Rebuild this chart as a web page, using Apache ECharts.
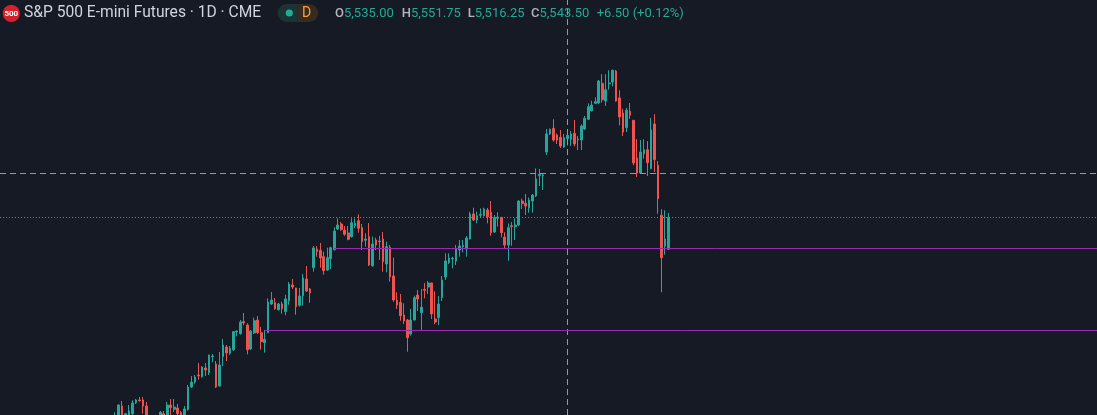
<!DOCTYPE html>
<html>
<head>
<meta charset="utf-8">
<script src="https://cdn.jsdelivr.net/npm/echarts@6/dist/echarts.min.js"></script>
<style>
html, body { margin: 0; padding: 0; background: #161a25; }
#chart { width: 1097px; height: 415px; }
</style>
</head>
<body>
<div id="chart"></div>
<script>
// daily candles, oldest first
var opens = [4769.5,4780.5,4812.75,4787.25,4785.75,4792,4821.75,4829,4829,4812.75,
  4775,4753.5,4764.25,4777.75,4792,4785.75,4815.5,4804,4807.5,4794.75,
  4787.25,4802.75,4864,4877.5,4896.5,4892,4915.5,4902.75,4946,4926.25,
  4866.75,4946,4972,4955,4964.75,5012.5,5008,5040.5,5031.5,4966.75,
  5010,5045,5010.75,4983.75,5010.75,5088.25,5091.75,5072.75,5088.25,5067.5,
  5097,5139.5,5131.5,5084.75,5110.5,5155.75,5128.75,5186.25,5236.75,5233.25,
  5216,5180,5210.5,5234.75,5290.75,5304.25,5288,5280,5270,5299.5,
  5313,5294.25,5260.25,5270,5191.5,5261,5256.5,5263.75,5196.25,5241.25,
  5163.75,5099,5092.75,5058.5,5045,5007.25,5045,5112.5,5064.75,5128,
  5134,5145,5047.75,5051.25,5105.25,5161,5199.75,5209.75,5204.25,5234,
  5243,5236.75,5263.75,5331.25,5315,5327.75,5326.5,5342,5336.5,5282.5,
  5319.5,5322.25,5269,5247.5,5299.5,5297,5301.5,5366.25,5360,5347.5,
  5366.25,5379.75,5434.5,5434.5,5498.5,5547.25,5562.5,5544.5,5538.25,5512,
  5535,5533,5549,5533.75,5531,5560.75,5587,5610,5630,5631,
  5684,5636.25,5683,5687.5,5717.25,5644.5,5604,5564.25,5608.5,5584.25,
  5482.5,5442,5494,5504.75,5453.5,5574.25,5462.75,5327.75,5244.75,5236];
var closes = [4785.75,4815.5,4783,4792,4799.25,4821,4829,4827,4812.75,4775,
  4758.75,4764.25,4780.5,4795.75,4785.75,4815.5,4808.25,4810,4792,4785.75,
  4804.75,4864,4877.5,4891,4894.5,4918,4910,4950.5,4947.75,4864,
  4923.5,4977.5,4956,4968.5,5013.5,5015.25,5039.5,5037,4964.75,5015.25,
  5043,5010.75,4986.5,4993,5093.5,5099,5075.5,5088.25,5075.5,5101.75,
  5142.25,5134,5081,5109.75,5158.5,5123.25,5118,5239.5,5229.5,5212.5,
  5178,5213.25,5240.25,5285.25,5301.5,5288.75,5276.5,5263,5307.75,5306,
  5292.5,5256.5,5263.75,5193.5,5250.25,5247.5,5258.25,5202.5,5243,5162,
  5099,5085.5,5056.5,5042.25,4997.25,5045,5105.25,5101.75,5080,5125.25,
  5145,5061.25,5039.5,5088.25,5153,5204.25,5212.5,5211.5,5238.5,5244.75,
  5246.75,5266.5,5331.25,5315,5326.5,5330.5,5344.75,5324,5280.75,5321.25,
  5323,5280.75,5247.5,5294.25,5297,5301.5,5366.25,5359.5,5352.75,5369,
  5382.5,5425.75,5438.5,5436.5,5547.25,5560,5531,5531,5514.75,5537,
  5543.5,5547.25,5520.25,5531.75,5568.75,5589.5,5621,5625.5,5634.5,5690.25,
  5639.75,5666.75,5685,5719.25,5636.25,5593,5552.5,5611.25,5597.75,5469,
  5442,5498.5,5504.75,5469.75,5558,5477.75,5372.5,5213.25,5263.75,5322.25];
var lows = [4761.5,4772.25,4775,4783,4780.5,4788.5,4818.25,4824.5,4792,4767,
  4748,4742.5,4753.5,4772.25,4780.5,4780.5,4788.5,4796.5,4785.75,4780.5,
  4783,4800.75,4861.5,4873,4883.75,4889.25,4893.75,4896.5,4930.75,4861.5,
  4865.5,4920.75,4934.25,4950.5,4961.25,5001,5005.75,5030.75,4952.5,4964.5,
  5007.25,5007.25,4964.75,4956.75,5010,5085.5,5072.75,5070.75,5062,5057.75,
  5086.25,5128.75,5059.25,5080.75,5083.5,5120.5,5091.75,5175.5,5216,5186.25,
  5167.25,5177.25,5182.75,5232.75,5288,5286,5272.5,5260.25,5267.75,5293.5,
  5280.75,5234,5243,5190.75,5189,5234,5207,5175.5,5173.75,5148.5,
  5094.5,5074.75,5043,5034.25,4959.5,5002.5,5043.75,5069.25,5018,5103.5,
  5115.25,5047.75,5033.5,5031.5,5096.25,5153,5196.25,5184.5,5193.5,5216,
  5227.75,5216,5262.25,5312.25,5306,5323,5324.5,5306,5272.5,5280,
  5297,5268.25,5238.5,5205,5245.5,5261,5298.75,5344.75,5328.5,5334.75,
  5334.75,5377,5406.75,5396,5490.5,5544.5,5526.5,5520.25,5509.5,5509.5,
  5516.25,5514.75,5513.5,5504,5504,5558,5585,5608,5628.25,5628.25,
  5631.75,5622.75,5666.75,5676,5634.5,5570.75,5541.75,5552.5,5588.5,5462.75,
  5431,5439.25,5480.5,5433.75,5452,5444.5,5332,5120,5221.25,5234];
var highs = [4795.75,4817,4826.25,4794,4815.5,4828.25,4831.75,4837,4837,4823.5,
  4780.5,4775,4785.75,4799.25,4799.25,4823.5,4831.75,4831.75,4818.25,4799.25,
  4812.75,4869.5,4893.75,4896.5,4929,4920.75,4929,4951,4953.25,4934.25,
  4958.5,4993.75,4977.5,4974.75,5015.25,5016.75,5045,5064,5036,5018,
  5051.25,5055.75,5026,5018,5103.5,5120.5,5104.5,5091,5094.5,5113.25,
  5147.5,5155.75,5132,5131.5,5169.25,5190.75,5131.5,5244.75,5244.75,5253,
  5229.5,5240.25,5243,5295.25,5319.5,5309.5,5298.75,5298.75,5319.5,5319.5,
  5330.5,5304.25,5279,5307,5270,5267.25,5271.75,5282.5,5256.5,5247.5,
  5213.25,5119.75,5115.25,5090,5047.75,5074.75,5110.5,5126,5128.75,5145,
  5150.25,5145.5,5122.5,5109.75,5163.75,5225,5225,5216,5247.5,5261,
  5261,5271.75,5337.5,5348.25,5337.5,5346.5,5348.25,5347.5,5366.25,5328.5,
  5335.75,5323,5281.75,5306,5309.5,5319.5,5367.75,5373,5385.25,5375.75,
  5385.25,5454.5,5452.75,5441,5560.75,5562,5587,5548.5,5558,5547.25,
  5551.75,5555.25,5585,5541.75,5573.5,5595.75,5630,5637,5646.25,5693,
  5708.5,5708.5,5719.25,5721.25,5720,5665.25,5615.5,5617.5,5631,5585,
  5533,5531,5533,5528.25,5590.5,5600.5,5474.25,5344,5341.25,5334];

// horizontal levels drawn on the chart and the bar they start from
var levelPrices = [5238.5, 5017.25];
var levelStarts = [63, 43];

// crosshair: hovered bar and cursor price
var hoverIndex = 130;
var cursorPrice = 5441;

var title = 'S&P 500 E-mini Futures · 1D · CME';

// visible window of the price pane
var xMin = -33.05, xMax = 282.18;
var yMin = 4788.5, yMax = 5909;

var UP = '#26a69a', DOWN = '#ef5350';

var candles = [];
for (var i = 0; i < opens.length; i++) {
  candles.push([i, opens[i], closes[i], lows[i], highs[i]]);
}

function fmt(v) {
  return v.toLocaleString('en-US', { minimumFractionDigits: 2, maximumFractionDigits: 2 });
}

var o = opens[hoverIndex], h = highs[hoverIndex], l = lows[hoverIndex], c = closes[hoverIndex];
var chg = c - closes[hoverIndex - 1];
var pct = chg / closes[hoverIndex - 1] * 100;
var sign = chg >= 0 ? '+' : '\u2212';
var valColor = c >= o ? '#22ab94' : '#f23645';

var font = 'Roboto, "Noto Sans", sans-serif';
var headRich = {
  k: { fill: '#b2b5be', fontSize: 13, fontWeight: 500, fontFamily: font },
  v: { fill: valColor, fontSize: 13, fontFamily: font }
};

var levelLines = levelPrices.map(function (p, k) {
  return [{ coord: [levelStarts[k], p] }, { coord: [xMax, p] }];
});

var myChart = echarts.init(document.getElementById('chart'));
myChart.setOption({
  animation: false,
  backgroundColor: '#161a25',
  grid: { left: 0, right: 0, top: 0, bottom: 0 },
  xAxis: {
    type: 'value', min: xMin, max: xMax,
    show: false, splitLine: { show: false }
  },
  yAxis: {
    type: 'value', min: yMin, max: yMax, scale: true,
    show: false, splitLine: { show: false }
  },
  series: [
    {
      type: 'candlestick',
      data: candles,
      barWidth: 2.2,
      itemStyle: {
        color: UP, color0: DOWN,
        borderColor: UP, borderColor0: DOWN,
        borderWidth: 1
      },
      markLine: {
        silent: true,
        symbol: 'none',
        label: { show: false },
        animation: false,
        data: [
          // last price
          { yAxis: closes[closes.length - 1],
            lineStyle: { color: UP, type: [1, 2], width: 1 } },
          // crosshair
          { yAxis: cursorPrice,
            lineStyle: { color: '#9598a1', type: [6, 4], width: 1 } },
          { xAxis: hoverIndex,
            lineStyle: { color: '#9598a1', type: [6, 4], width: 1 } }
        ].concat(levelLines.map(function (seg) {
          seg[0].lineStyle = { color: '#9c27b0', type: 'solid', width: 1 };
          return seg;
        }))
      }
    }
  ],
  graphic: [
    { type: 'circle', shape: { cx: 11.3, cy: 13.3, r: 8.6 }, style: { fill: '#d81f2c' } },
    { type: 'text', x: 11.3, y: 13.6,
      style: { text: '500', fill: '#ffffff', fontSize: 8, fontWeight: 'bold',
        fontFamily: font, align: 'center', verticalAlign: 'middle' } },
    { type: 'text', x: 24, y: 13.5,
      style: { text: title, fill: '#d1d4dc', fontSize: 15.6, fontFamily: font,
        verticalAlign: 'middle' } },
    { type: 'rect', shape: { x: 277.7, y: 4, width: 20, height: 18, r: [9, 0, 0, 9] },
      style: { fill: '#1c3434' } },
    { type: 'rect', shape: { x: 297.7, y: 4, width: 20.6, height: 18, r: [0, 9, 9, 0] },
      style: { fill: '#382a1e' } },
    { type: 'circle', shape: { cx: 289.3, cy: 13, r: 3.6 }, style: { fill: '#22ab94' } },
    { type: 'text', x: 306.5, y: 13.5,
      style: { text: 'D', fill: '#f7a13a', fontSize: 14, fontFamily: font,
        align: 'center', verticalAlign: 'middle' } },
    { type: 'text', x: 335, y: 13.5,
      style: { text: '{k|O}{v|' + fmt(o) + '}', rich: headRich, verticalAlign: 'middle' } },
    { type: 'text', x: 401.7, y: 13.5,
      style: { text: '{k|H}{v|' + fmt(h) + '}', rich: headRich, verticalAlign: 'middle' } },
    { type: 'text', x: 467.7, y: 13.5,
      style: { text: '{k|L}{v|' + fmt(l) + '}', rich: headRich, verticalAlign: 'middle' } },
    { type: 'text', x: 531, y: 13.5,
      style: { text: '{k|C}{v|' + fmt(c) + '}', rich: headRich, verticalAlign: 'middle' } },
    { type: 'text', x: 596.7, y: 13.5,
      style: { text: '{v|' + sign + fmt(Math.abs(chg)) + ' (' + sign + fmt(Math.abs(pct)) + '%)}',
        rich: headRich, verticalAlign: 'middle' } }
  ]
});
</script>
</body>
</html>
